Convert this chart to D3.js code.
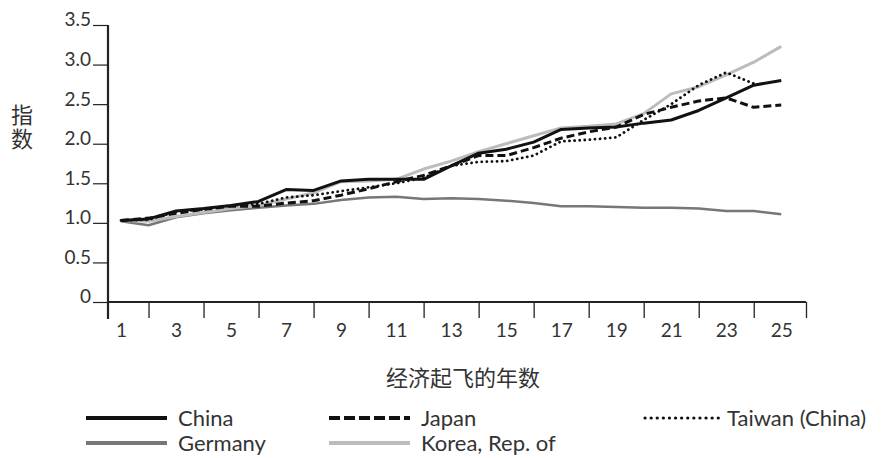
<!DOCTYPE html>
<html>
<head>
<meta charset="utf-8">
<script src="https://cdn.jsdelivr.net/npm/d3@7"></script>
<style>
  html, body { margin: 0; padding: 0; background: #fff; }
  svg { display: block; }
  text { font-family: Lato, "Open Sans", "Noto Sans", sans-serif; fill: #222; }
</style>
</head>
<body>
<svg id="chart" width="882" height="458"></svg>
<script>
const years = d3.range(1, 26);
const china   = [1.03,1.05,1.15,1.18,1.22,1.27,1.42,1.41,1.53,1.55,1.55,1.55,1.72,1.88,1.93,2.02,2.18,2.20,2.21,2.26,2.30,2.42,2.58,2.74,2.80];
const japan   = [1.03,1.06,1.12,1.17,1.21,1.21,1.25,1.28,1.35,1.43,1.52,1.60,1.72,1.85,1.85,1.95,2.07,2.15,2.21,2.37,2.46,2.54,2.58,2.46,2.49];
const taiwan  = [1.03,1.04,1.14,1.17,1.22,1.24,1.32,1.35,1.40,1.45,1.50,1.57,1.72,1.77,1.78,1.85,2.03,2.05,2.08,2.30,2.50,2.74,2.90,2.76,null];
const germany = [1.02,0.97,1.07,1.12,1.16,1.19,1.22,1.24,1.29,1.32,1.33,1.30,1.31,1.30,1.28,1.25,1.21,1.21,1.20,1.19,1.19,1.18,1.15,1.15,1.11];
const korea   = [1.03,1.02,1.08,1.13,1.18,1.22,1.30,1.38,1.52,1.53,1.55,1.68,1.78,1.90,2.00,2.10,2.20,2.22,2.25,2.38,2.63,2.72,2.87,3.03,3.23];
const yTicks = [0, 0.5, 1.0, 1.5, 2.0, 2.5, 3.0, 3.5];
const xLabelTicks = [1,3,5,7,9,11,13,15,17,19,21,23,25];
const xMarkTicks = [2,4,6,8,10,12,14,16,18,20,22,24];

const series = [
  {name: "Germany", values: germany, color: "#777", width: 2.5, dash: null, cap: "butt"},
  {name: "Korea, Rep. of", values: korea, color: "#bcbcbc", width: 3, dash: null, cap: "butt"},
  {name: "Taiwan (China)", values: taiwan, color: "#111", width: 2.8, dash: "0.1,5", cap: "round"},
  {name: "Japan", values: japan, color: "#111", width: 3, dash: "8,4", cap: "butt"},
  {name: "China", values: china, color: "#111", width: 3, dash: null, cap: "butt"}
];

const svg = d3.select("#chart");
const x = d3.scaleLinear().domain([0.527, 25.9]).range([108, 806]);
const y = d3.scaleLinear().domain([0, 3.5]).range([302, 25]);

// Y axis
const yAxis = svg.append("g").attr("transform", "translate(108,0)")
  .call(d3.axisLeft(y).tickValues(yTicks).tickSize(15).tickPadding(2)
    .tickFormat(d => d === 0 ? "0" : d3.format(".1f")(d)));
yAxis.select(".domain").remove();
yAxis.selectAll("line").attr("stroke", "#222").attr("stroke-width", 1.2);
yAxis.selectAll("text").style("font-size", "19px").attr("dy", "0.05em").style("fill", "#333");
svg.append("line").attr("x1", 108).attr("x2", 108).attr("y1", y(3.5)).attr("y2", y(0) + 17)
  .attr("stroke", "#222").attr("stroke-width", 2.2);

// X axis line and tick marks
const xAxisMarks = svg.append("g").attr("transform", `translate(0,${y(0)})`)
  .call(d3.axisBottom(x).tickValues(xMarkTicks.concat([x.domain()[1]])).tickSize(16).tickFormat(""));
xAxisMarks.select(".domain").remove();
xAxisMarks.selectAll("line").attr("stroke", "#222").attr("stroke-width", 1.3);
svg.append("line").attr("x1", x.range()[0]).attr("x2", x.range()[1]).attr("y1", y(0)).attr("y2", y(0))
  .attr("stroke", "#222").attr("stroke-width", 2.2);

// X labels
const xAxisLabels = svg.append("g").attr("transform", `translate(0,${y(0)})`)
  .call(d3.axisBottom(x).tickValues(xLabelTicks).tickSize(0).tickPadding(22).tickFormat(d3.format("d")));
xAxisLabels.select(".domain").remove();
xAxisLabels.selectAll("text").style("font-size", "19px").style("fill", "#333");

// Axis titles
svg.append("text").attr("x", 463).attr("y", 386).attr("text-anchor", "middle")
  .style("font-family", "'Noto Sans CJK SC', sans-serif").style("font-size", "22px").style("fill", "#333")
  .text("经济起飞的年数");
svg.append("text")
  .attr("x", 22).attr("y", 104)
  .style("font-family", "'Noto Sans CJK SC', sans-serif").style("font-size", "22px")
  .style("fill", "#333").style("writing-mode", "vertical-rl").style("text-orientation", "upright")
  .style("letter-spacing", "2px")
  .text("指数");

// Lines
const line = d3.line()
  .defined(d => d.v !== null)
  .x(d => x(d.year))
  .y(d => y(d.v));

svg.append("g").selectAll("path").data(series).join("path")
  .attr("d", s => line(years.map((yr, i) => ({year: yr, v: s.values[i]}))))
  .attr("fill", "none")
  .attr("stroke", s => s.color)
  .attr("stroke-width", s => s.width)
  .attr("stroke-dasharray", s => s.dash)
  .attr("stroke-linecap", s => s.cap)
  .attr("stroke-linejoin", "round");

// Legend
const legendItems = [
  {name: "China", color: "#111", dash: null, cap: "butt", lx: 86, ly: 418, w: 4},
  {name: "Japan", color: "#111", dash: "11,4", cap: "butt", lx: 329, ly: 418, w: 4},
  {name: "Taiwan (China)", color: "#111", dash: "0.1,6", cap: "round", lx: 645, ly: 418, w: 3.2},
  {name: "Germany", color: "#777", dash: null, cap: "butt", lx: 86, ly: 443, w: 4},
  {name: "Korea, Rep. of", color: "#bcbcbc", dash: null, cap: "butt", lx: 329, ly: 443, w: 4}
];
const lg = svg.append("g").selectAll("g").data(legendItems).join("g")
  .attr("transform", d => `translate(${d.lx},${d.ly})`);
lg.append("line").attr("x1", 0).attr("x2", d => d.name === "Taiwan (China)" ? 77 : 81)
  .attr("y1", 0).attr("y2", 0)
  .attr("stroke", d => d.color).attr("stroke-width", d => d.w)
  .attr("stroke-dasharray", d => d.dash).attr("stroke-linecap", d => d.cap);
lg.append("text").attr("x", d => d.name === "Taiwan (China)" ? 82 : 92).attr("y", 0).attr("dy", "0.35em")
  .style("font-size", "22px").style("fill", "#333").text(d => d.name);
</script>
</body>
</html>
